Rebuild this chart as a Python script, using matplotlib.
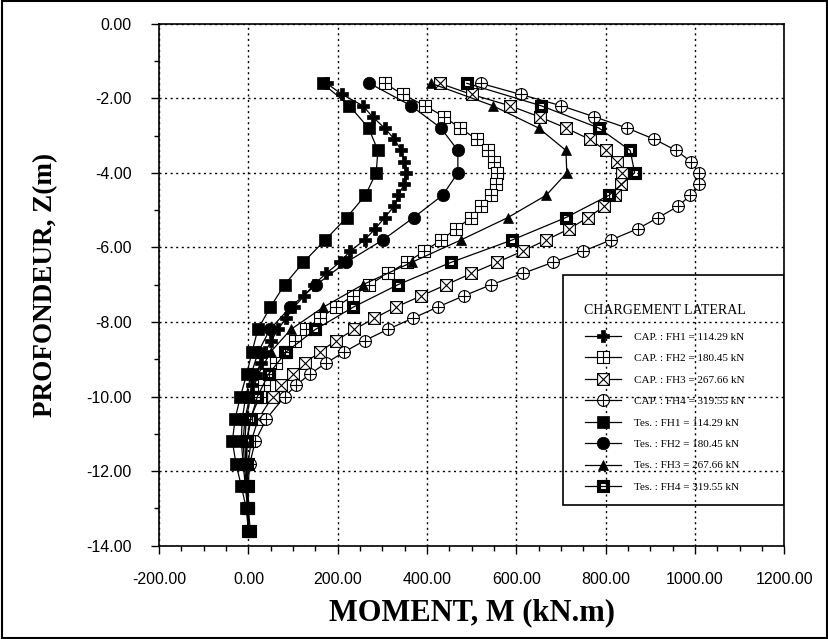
import matplotlib
matplotlib.use("Agg")
import matplotlib.pyplot as plt
from matplotlib.path import Path
from matplotlib.patches import Rectangle
from matplotlib.ticker import MultipleLocator, FormatStrFormatter

# depths (m) - CAP curves are finer near the top, Tes curves every 0.6 m
depth_cap = [-1.6, -1.9, -2.2, -2.5, -2.8, -3.1, -3.4, -3.7, -4.0, -4.3, -4.6, -4.9,
             -5.2, -5.5, -5.8, -6.1, -6.4, -6.7, -7.0, -7.3, -7.6, -7.9, -8.2, -8.5,
             -8.8, -9.1, -9.4, -9.7, -10.0, -10.6, -11.2, -11.8, -12.4, -13.0, -13.6]
depth_tes = [-1.6, -2.2, -2.8, -3.4, -4.0, -4.6, -5.2, -5.8, -6.4, -7.0, -7.6,
             -8.2, -8.8, -9.4, -10.0, -10.6, -11.2, -11.8, -12.4, -13.0, -13.6]

# bending moments (kN.m)
cap_fh1 = [175, 210, 256, 278, 305, 327, 342, 349, 352, 349, 336, 326, 305, 284, 260, 228,
           204, 174, 146, 125, 102, 84, 66, 51, 38, 27, 17, 9, 3, -8, -12, -9, -5, -2, 0]
cap_fh2 = [305, 346, 395, 439, 473, 512, 536, 551, 556, 554, 543, 521, 499, 465, 432, 394,
           355, 312, 271, 234, 196, 160, 128, 105, 82, 62, 47, 35, 25, 4, -4, -5, -3, -1, 0]
cap_fh3 = [428, 500, 585, 652, 711, 764, 800, 825, 836, 835, 820, 797, 760, 719, 667, 614,
           557, 499, 443, 387, 330, 282, 237, 196, 160, 127, 99, 73, 54, 22, 6, -1, -2, -1, 0]
cap_fh4 = [520, 610, 700, 775, 848, 909, 958, 991, 1009, 1008, 990, 962, 918, 872, 812, 750,
           682, 614, 544, 482, 424, 368, 312, 260, 215, 174, 137, 107, 81, 40, 15, 3, -1, -1, 0]

tes_fh1 = [166, 226, 269, 290, 286, 262, 220, 172, 123, 81, 49, 21, 8, -4, -18, -30, -36, -28, -16, -5, 0]
tes_fh2 = [271, 364, 431, 469, 469, 435, 370, 301, 219, 152, 94, 48, 22, 6, -6, -14, -16, -12, -7, -2, 0]
tes_fh3 = [409, 547, 650, 711, 713, 667, 581, 476, 366, 256, 168, 95, 50, 22, 5, -5, -8, -6, -3, -1, 0]
tes_fh4 = [489, 655, 785, 855, 865, 808, 711, 591, 454, 335, 235, 150, 85, 45, 20, 5, -3, -4, -2, 0, 4]

labels = ["CAP. : FH1 = 114.29 kN", "CAP. : FH2 = 180.45 kN",
          "CAP. : FH3 = 267.66 kN", "CAP. : FH4 = 319.55 kN",
          "Tes. : FH1 = 114.29 kN", "Tes. : FH2 = 180.45 kN",
          "Tes. : FH3 = 267.66 kN", "Tes. : FH4 = 319.55 kN"]

# custom marker shapes
sq = Path([(-1, -1), (1, -1), (1, 1), (-1, 1), (-1, -1)],
          [Path.MOVETO, Path.LINETO, Path.LINETO, Path.LINETO, Path.CLOSEPOLY])
plus_lines = [Path([(0, -1), (0, 1)]), Path([(-1, 0), (1, 0)])]
x_lines = [Path([(-1, -1), (1, 1)]), Path([(-1, 1), (1, -1)])]
sq_plus = Path.make_compound_path(sq, *plus_lines)
sq_x = Path.make_compound_path(sq, *x_lines)
circ_plus = Path.make_compound_path(Path.unit_circle(), *plus_lines)
inner = Path([(-0.45, -0.45), (-0.45, 0.45), (0.45, 0.45), (0.45, -0.45), (-0.45, -0.45)],
             [Path.MOVETO, Path.LINETO, Path.LINETO, Path.LINETO, Path.CLOSEPOLY])
sq_hole = Path.make_compound_path(sq, inner)

fig = plt.figure(figsize=(8.29, 6.39), dpi=100)
ax = fig.add_axes([0.192, 0.146, 0.754, 0.817])

styles = [
    (depth_cap, cap_fh1, dict(marker="P", ms=8.5, mfc="black", mec="black", mew=0.5)),
    (depth_cap, cap_fh2, dict(marker=sq_plus, ms=8.5, mfc="white", mec="black", mew=0.8)),
    (depth_cap, cap_fh3, dict(marker=sq_x, ms=8.5, mfc="white", mec="black", mew=0.8)),
    (depth_cap, cap_fh4, dict(marker=circ_plus, ms=8.5, mfc="white", mec="black", mew=0.8)),
    (depth_tes, tes_fh1, dict(marker="s", ms=8.5, mfc="black", mec="black", mew=0.5)),
    (depth_tes, tes_fh2, dict(marker="o", ms=9, mfc="black", mec="black", mew=0.5)),
    (depth_tes, tes_fh3, dict(marker="^", ms=7.5, mfc="black", mec="black", mew=0.5)),
    (depth_tes, tes_fh4, dict(marker=sq_hole, ms=8.5, mfc="black", mec="black", mew=0.8)),
]
handles = []
for (z, m, st), lab in zip(styles, labels):
    h, = ax.plot(m, z, color="black", lw=0.9, label=lab, **st)
    handles.append(h)

ax.set_xlim(-200, 1200)
ax.set_ylim(-14, 0)
ax.xaxis.set_major_locator(MultipleLocator(200))
ax.xaxis.set_minor_locator(MultipleLocator(50))
ax.yaxis.set_major_locator(MultipleLocator(2))
ax.yaxis.set_minor_locator(MultipleLocator(1))
ax.xaxis.set_major_formatter(FormatStrFormatter("%.2f"))
ax.yaxis.set_major_formatter(FormatStrFormatter("%.2f"))
ax.tick_params(which="major", direction="out", length=6, width=1)
ax.tick_params(which="minor", direction="out", length=3.5, width=1)
ax.tick_params(axis="x", which="major", pad=13)
ax.tick_params(axis="y", which="major", pad=14)
for lab in ax.get_xticklabels() + ax.get_yticklabels():
    lab.set_fontfamily("Liberation Sans")
    lab.set_fontsize(11.5)
ax.grid(True, which="major", color="black", linestyle=(0, (1.5, 2.5)), linewidth=1)
for sp in ax.spines.values():
    sp.set_linewidth(1.2)

ax.set_xlabel("MOMENT, M (kN.m)", fontfamily="Liberation Serif", fontweight="bold",
              fontsize=22, labelpad=8)
ax.set_ylabel("PROFONDEUR, Z(m)", fontfamily="Liberation Serif", fontweight="bold",
              fontsize=19.5, labelpad=20)

# legend box (transparent, the grid shows through)
ax.add_patch(Rectangle((0.646, 0.078), 0.354, 0.441, transform=ax.transAxes,
                       fill=False, edgecolor="black", linewidth=1.2, zorder=5))
leg = ax.legend(handles=handles, loc="upper left", bbox_to_anchor=(0.672, 0.472),
                frameon=False, prop={"family": "Liberation Serif", "size": 8},
                title="CHARGEMENT LATERAL",
                title_fontproperties={"family": "Liberation Serif", "size": 10},
                handlelength=3.3, handletextpad=1.1, labelspacing=1.05,
                borderaxespad=0)
leg._legend_box.sep = 11

# frame around the whole picture
fig.patches.append(Rectangle((0.002, 0.002), 0.996, 0.996, transform=fig.transFigure,
                             fill=False, edgecolor="black", linewidth=1.5))

fig.savefig("out.png", dpi=100)
